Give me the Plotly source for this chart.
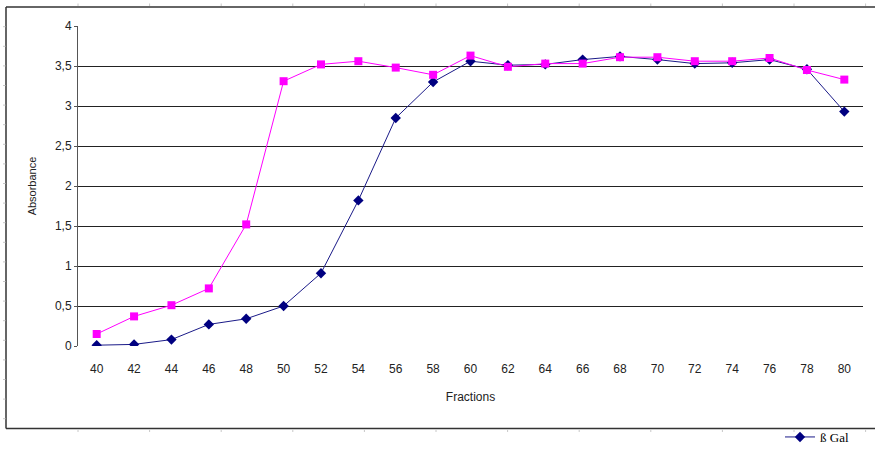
import plotly.graph_objects as go

fractions = [40, 42, 44, 46, 48, 50, 52, 54, 56, 58, 60, 62, 64, 66, 68, 70, 72, 74, 76, 78, 80]
beta_gal = [0.01, 0.02, 0.08, 0.27, 0.34, 0.50, 0.91, 1.82, 2.85, 3.30, 3.56, 3.51, 3.52, 3.58, 3.62, 3.58, 3.53, 3.54, 3.58, 3.46, 2.93]
second_series = [0.15, 0.37, 0.51, 0.72, 1.52, 3.31, 3.52, 3.56, 3.48, 3.39, 3.63, 3.49, 3.53, 3.53, 3.61, 3.61, 3.56, 3.56, 3.60, 3.45, 3.33]
y_ticks = [0, 0.5, 1, 1.5, 2, 2.5, 3, 3.5, 4]

W, H = 875, 450
L, R, T, B = 78, 12, 26, 104
pw, ph = W - L - R, H - T - B

def px(x):
    return (x - L) / pw

def py(y):
    return (H - B - y) / ph

fig = go.Figure()
fig.add_trace(go.Scatter(
    x=fractions, y=beta_gal, mode="lines+markers", name="ß Gal",
    line=dict(color="#1a1a88", width=1),
    marker=dict(symbol="diamond", size=8, color="#000080"),
))
fig.add_trace(go.Scatter(
    x=fractions, y=second_series, mode="lines+markers", name="",
    showlegend=False,
    line=dict(color="#FF00FF", width=1),
    marker=dict(symbol="square", size=8, color="#FF00FF"),
))

shapes = []
frame_col = "#333333"
# outer frame (top, left, bottom)
shapes.append(dict(type="line", xref="paper", yref="paper", x0=px(6), x1=px(880), y0=py(7), y1=py(7),
                   line=dict(color=frame_col, width=1.5)))
shapes.append(dict(type="line", xref="paper", yref="paper", x0=px(6), x1=px(880), y0=py(428.5), y1=py(428.5),
                   line=dict(color=frame_col, width=1.5)))
shapes.append(dict(type="line", xref="paper", yref="paper", x0=px(6), x1=px(6), y0=py(7), y1=py(428.5),
                   line=dict(color=frame_col, width=1.5)))
# faint sheet-cell marks along the frame
mark_col = "#c8c8c8"
xm = 78.0
while xm < W:
    shapes.append(dict(type="line", xref="paper", yref="paper", x0=px(xm), x1=px(xm), y0=py(3.5), y1=py(6),
                       line=dict(color=mark_col, width=1)))
    shapes.append(dict(type="line", xref="paper", yref="paper", x0=px(xm), x1=px(xm), y0=py(429.5), y1=py(432),
                       line=dict(color=mark_col, width=1)))
    xm += 71.6
ym = 26.7
while ym < 428:
    shapes.append(dict(type="line", xref="paper", yref="paper", x0=px(3), x1=px(5.5), y0=py(ym), y1=py(ym),
                       line=dict(color=mark_col, width=1)))
    ym += 19.6

fig.update_layout(
    width=W, height=H,
    margin=dict(l=L, r=R, t=T, b=B, pad=0, autoexpand=False),
    paper_bgcolor="white", plot_bgcolor="white",
    separators=", ",
    font=dict(family="Liberation Sans Narrow, Arial Narrow, Liberation Sans, Arial, sans-serif", size=12, color="#222222"),
    xaxis=dict(
        range=[39, 81], tickmode="array", tickvals=fractions, ticktext=[str(f) for f in fractions],
        showgrid=False, zeroline=False, showline=False, ticks="", ticklabelstandoff=14,
        title=dict(text="Fractions", font=dict(size=12), standoff=17),
    ),
    yaxis=dict(
        range=[0, 4], tickmode="array", tickvals=y_ticks,
        showgrid=True, gridcolor="#222222", gridwidth=1,
        zeroline=False, showline=True, linecolor="#555555", linewidth=1,
        ticks="outside", ticklen=3, tickcolor="#555555",
        title=dict(text="Absorbance", font=dict(family="Liberation Sans, Arial, sans-serif", size=11), standoff=16),
    ),
    showlegend=True,
    legend=dict(
        xref="container", yref="container", x=780 / W, y=(H - 437) / H, xanchor="left", yanchor="middle",
        bgcolor="rgba(0,0,0,0)", itemwidth=30,
        font=dict(family="Liberation Serif, Times New Roman, serif", size=13, color="#000000"),
    ),
    shapes=shapes,
)

fig.write_html(
    "out.html",
    config={"displayModeBar": False},
    post_script="document.body.style.margin='0';document.body.style.overflow='hidden';",
)
